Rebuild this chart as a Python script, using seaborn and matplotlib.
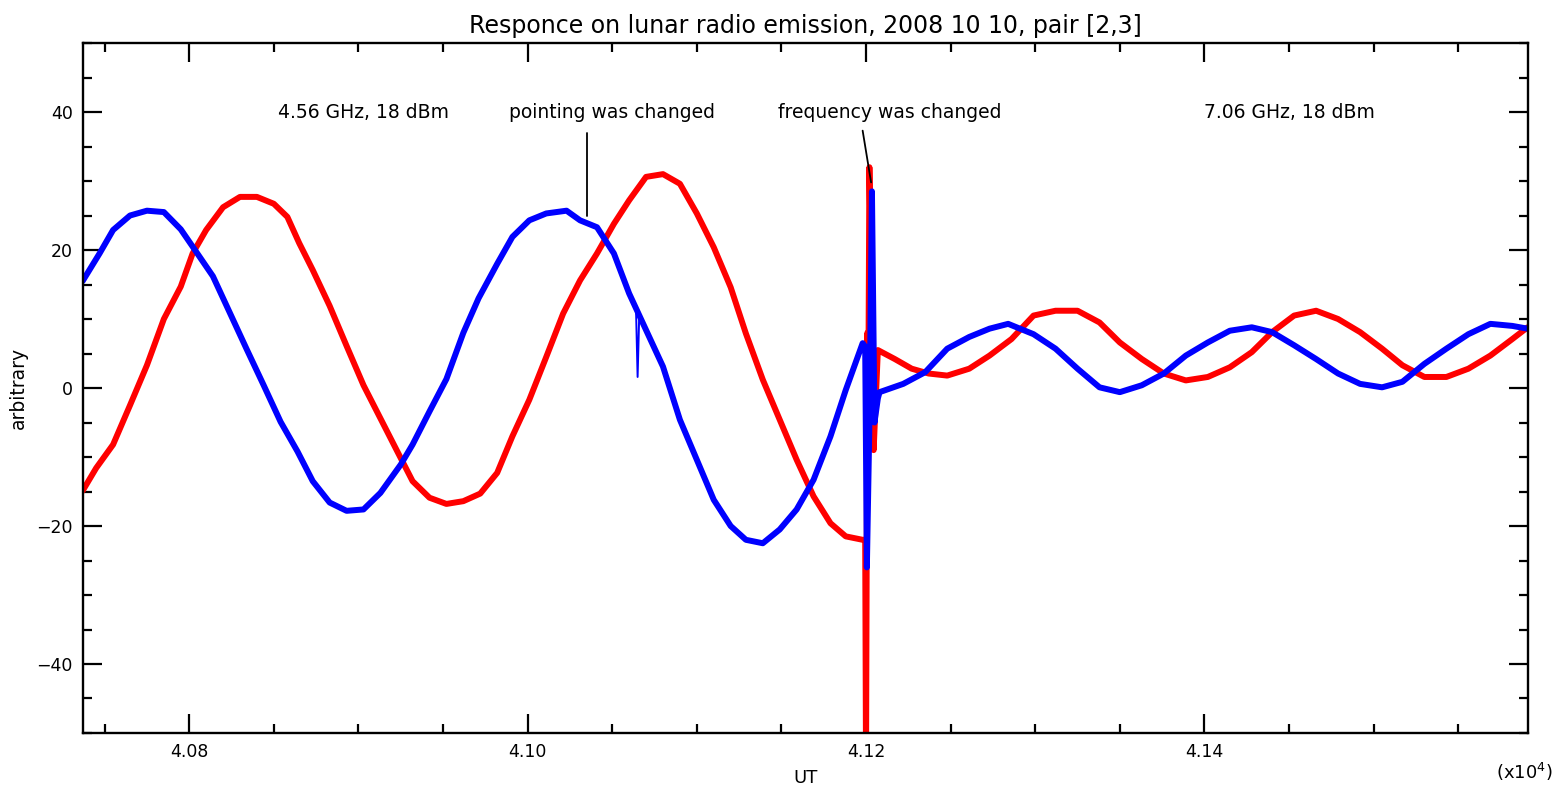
import numpy as np
import seaborn as sns
import matplotlib
matplotlib.use("Agg")
import matplotlib.pyplot as plt
from matplotlib.ticker import MultipleLocator, FormatStrFormatter

# UT in units of 1e4, response in arbitrary units
blue_x = [4.0737, 4.0747, 4.0755, 4.0765, 4.0775, 4.0785, 4.0795, 4.0802, 4.0814, 4.0824,
          4.0834, 4.0844, 4.0854, 4.0864, 4.0873, 4.0883, 4.0893, 4.0903, 4.0913, 4.0925,
          4.0932, 4.0942, 4.0952, 4.0962, 4.0971, 4.0982, 4.0991, 4.1001, 4.1011, 4.1023,
          4.1031, 4.1041, 4.1051, 4.1060, 4.1070, 4.1080, 4.1090, 4.1100, 4.1110, 4.1120,
          4.1129, 4.1139, 4.1149, 4.1159, 4.1169, 4.1179, 4.1188, 4.1198,
          4.11995, 4.12005, 4.1202, 4.12035, 4.1205, 4.1207, 4.1208,
          4.1222, 4.1235, 4.1248, 4.1261, 4.1273, 4.1284, 4.1299, 4.1312, 4.1325, 4.1338,
          4.1350, 4.1363, 4.1376, 4.1389, 4.1402, 4.1415, 4.1428, 4.1440, 4.1453, 4.1466,
          4.1479, 4.1492, 4.1505, 4.1517, 4.1530, 4.1543, 4.1556, 4.1569, 4.1582, 4.1591]
blue_y = [15.5, 19.5, 22.9, 25.0, 25.7, 25.5, 23.0, 20.5, 16.2, 10.9,
          5.6, 0.4, -4.9, -9.2, -13.5, -16.6, -17.8, -17.6, -15.2, -11.1,
          -8.2, -3.4, 1.3, 8.0, 13.0, 18.0, 21.9, 24.3, 25.3, 25.7,
          24.3, 23.3, 19.5, 13.7, 8.4, 3.1, -4.6, -10.4, -16.2, -20.0,
          -22.0, -22.5, -20.5, -17.6, -13.3, -7.0, -0.3, 6.5,
          6.0, -26.0, -5.0, 28.5, -5.0, -1.5, -0.6,
          0.6, 2.3, 5.7, 7.4, 8.6, 9.3, 7.8, 5.7, 2.8, 0.1,
          -0.6, 0.4, 2.1, 4.7, 6.6, 8.3, 8.8, 8.1, 6.2, 4.2,
          2.1, 0.6, 0.1, 0.9, 3.5, 5.7, 7.8, 9.3, 9.0, 8.6]

red_x = [4.0737, 4.0745, 4.0755, 4.0765, 4.0775, 4.0785, 4.0795, 4.0802, 4.0810, 4.0820,
         4.0830, 4.0840, 4.0850, 4.0858, 4.0865, 4.0873, 4.0883, 4.0893, 4.0903, 4.0913,
         4.0923, 4.0932, 4.0942, 4.0952, 4.0962, 4.0972, 4.0982, 4.0991, 4.1001, 4.1011,
         4.1021, 4.1031, 4.1041, 4.1051, 4.1060, 4.1070, 4.1080, 4.1090, 4.1100, 4.1110,
         4.1120, 4.1129, 4.1139, 4.1149, 4.1159, 4.1169, 4.1179, 4.1188, 4.1198,
         4.11995, 4.1200, 4.12008, 4.12012, 4.1202, 4.12045, 4.1207,
         4.1217, 4.1227, 4.1237, 4.1248, 4.1261, 4.1273, 4.1286, 4.1299, 4.1312, 4.1325,
         4.1338, 4.1350, 4.1363, 4.1376, 4.1389, 4.1402, 4.1415, 4.1428, 4.1440, 4.1453,
         4.1466, 4.1479, 4.1492, 4.1505, 4.1517, 4.1530, 4.1543, 4.1556, 4.1569, 4.1582, 4.1591]
red_y = [-14.9, -11.6, -8.2, -2.5, 3.3, 10.0, 14.7, 19.5, 22.9, 26.2,
         27.7, 27.7, 26.7, 24.8, 21.0, 17.1, 11.9, 6.1, 0.4, -4.4,
         -9.2, -13.5, -15.9, -16.8, -16.4, -15.3, -12.3, -7.0, -1.7, 4.5,
         10.8, 15.6, 19.5, 23.8, 27.2, 30.6, 31.0, 29.6, 25.3, 20.4,
         14.6, 7.9, 1.2, -4.6, -10.4, -15.7, -19.6, -21.5, -22.0,
         -22.0, -55.0, 8.0, -8.0, 32.0, -9.0, 5.5,
         4.2, 2.8, 2.1, 1.8, 2.8, 4.7, 7.1, 10.5, 11.2, 11.2,
         9.5, 6.6, 4.2, 2.1, 1.1, 1.6, 3.0, 5.2, 8.1, 10.5,
         11.2, 10.0, 8.1, 5.7, 3.3, 1.6, 1.6, 2.8, 4.7, 7.1, 8.8]

# short dropout in the blue trace
glitch_x = [4.1064, 4.1065, 4.1066]
glitch_y = [12.0, 1.6, 11.0]

labels = ["4.56 GHz, 18 dBm", "pointing was changed", "frequency was changed", "7.06 GHz, 18 dBm"]
label_x = [4.0903, 4.1050, 4.1214, 4.1450]

sns.set_style("ticks")
plt.rcParams['font.family'] = ['DejaVu Sans']
plt.rcParams['text.color'] = 'black'
plt.rcParams['axes.labelcolor'] = 'black'

fig = plt.figure(figsize=(15.65, 7.88), dpi=100)
ax = fig.add_axes([0.0528, 0.0698, 0.9233, 0.8756])

sns.lineplot(x=red_x, y=red_y, sort=False, estimator=None, color='#ff0000', lw=4.3, ax=ax)
sns.lineplot(x=blue_x, y=blue_y, sort=False, estimator=None, color='#0000ff', lw=4.3, ax=ax)
sns.lineplot(x=glitch_x, y=glitch_y, sort=False, estimator=None, color='#0000ff', lw=1.4, ax=ax)

ax.set_xlim(4.0737, 4.1591)
ax.set_ylim(-50, 50)

ax.xaxis.set_major_locator(MultipleLocator(0.02))
ax.xaxis.set_minor_locator(MultipleLocator(0.005))
ax.xaxis.set_major_formatter(FormatStrFormatter('%.2f'))
ax.yaxis.set_major_locator(MultipleLocator(20))
ax.yaxis.set_minor_locator(MultipleLocator(5))
ax.tick_params(which='both', direction='in', top=True, right=True, width=1.6, colors='black',
               labelsize=12.5)
ax.tick_params(which='major', length=13.5, pad=7)
ax.tick_params(which='minor', length=6.5)
for s in ax.spines.values():
    s.set_linewidth(1.7)
    s.set_color('black')

for txt, xv in zip(labels, label_x):
    ax.text(xv, 40, txt, ha='center', va='center', fontsize=13.5, color='black')

# leader lines for the two events
ax.plot([4.1035, 4.1035], [37, 25], color='black', lw=1.3)
ax.plot([4.1198, 4.1203], [37.3, 29.8], color='black', lw=1.3)

ax.set_title("Responce on lunar radio emission, 2008 10 10, pair [2,3]", fontsize=17,
             pad=7, color='black')
ax.set_xlabel("UT", fontsize=13, labelpad=6)
ax.set_ylabel("arbitrary", fontsize=13.5, labelpad=6)
ax.text(0.998, -0.057, r"(x10$^4$)", transform=ax.transAxes, ha='center', va='center',
        fontsize=13)

fig.savefig("out.png", dpi=100)
